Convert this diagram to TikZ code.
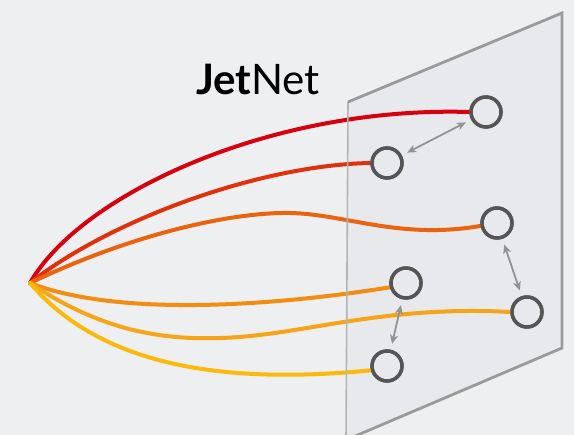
\documentclass[tikz,border=0pt]{standalone}
\usepackage{fontspec}
\setmainfont{Lato}
\usetikzlibrary{arrows.meta}
\definecolor{bgc}{HTML}{EEEFF1}
\definecolor{planec}{HTML}{E7E9EC}
\definecolor{edgec}{HTML}{9A9A9A}
\definecolor{edgel}{HTML}{B4B4B4}
\definecolor{circc}{HTML}{555555}
\definecolor{arrc}{HTML}{939393}
\definecolor{ca}{HTML}{D6000E}
\definecolor{cb}{HTML}{E0300C}
\definecolor{cc}{HTML}{EA640F}
\definecolor{cd}{HTML}{F28C12}
\definecolor{ce}{HTML}{F7A518}
\definecolor{cf}{HTML}{FCB90C}
\tikzset{
  particle/.style={circle, draw=circc, line width=3.4pt, minimum size=30pt, inner sep=0pt},
  jet/.style={line width=4pt, line cap=round},
  link/.style={draw=arrc, line width=1.8pt, {Stealth[length=9pt,width=8pt,inset=2.5pt]}-{Stealth[length=9pt,width=8pt,inset=2.5pt]}, shorten <=6pt, shorten >=6pt},
  planeedge/.style={draw=edgec, line width=2.8pt, line join=miter},
  planeleft/.style={draw=edgel, line width=1.6pt}
}
\begin{document}
\begin{tikzpicture}[x=1pt,y=-1pt]
\fill[bgc] (0,0) rectangle (574,435);
\useasboundingbox (0,0) rectangle (574,435);
% plane
\coordinate (tl) at (348,102);
\coordinate (tr) at (562,13);
\coordinate (br) at (562,348);
\coordinate (bl) at (346,440);
\fill[planec] (tl) -- (tr) -- (br) -- (bl) -- cycle;
% title
\node[anchor=base, inner sep=0pt, font=\fontsize{42}{42}\selectfont] (title) at (258,95) {\textbf{Jet}Net};
% particles
\coordinate (o) at (30,283);
\node[particle] (p1) at (486,112) {};
\node[particle] (p2) at (387,163) {};
\node[particle] (p3) at (497,223) {};
\node[particle] (p4) at (406,283) {};
\node[particle] (p5) at (527,312) {};
\node[particle] (p6) at (387,366) {};
% jets
\draw[jet, ca] (o) .. controls (80,195) and (270,106) .. (p1.west);
\draw[jet, cb] (o) .. controls (110,220) and (260,165) .. (p2.west);
\draw[jet, cc] (o) .. controls (130,235) and (230,212) .. (290,213) .. controls (345,214) and (400,240) .. (p3.190);
\draw[jet, cd] (o) .. controls (120,318) and (280,305) .. (p4.195);
\draw[jet, ce] (o) .. controls (100,330) and (160,340) .. (220,338) .. controls (300,336) and (380,305) .. (p5.west);
\draw[jet, cf] (o) .. controls (100,365) and (220,385) .. (p6.195);
% plane edges
\draw[planeleft] (tl) -- (bl);
\draw[planeedge] (tl) -- (tr) -- (br) -- (bl);
% particles on top of the jets
\node[particle] at (p1) {};
\node[particle] at (p2) {};
\node[particle] at (p3) {};
\node[particle] at (p4) {};
\node[particle] at (p5) {};
\node[particle] at (p6) {};
% links
\draw[link] (p1) -- (p2);
\draw[link] (p3) -- (p5);
\draw[link] (p4) -- (p6);
\end{tikzpicture}
\end{document}
